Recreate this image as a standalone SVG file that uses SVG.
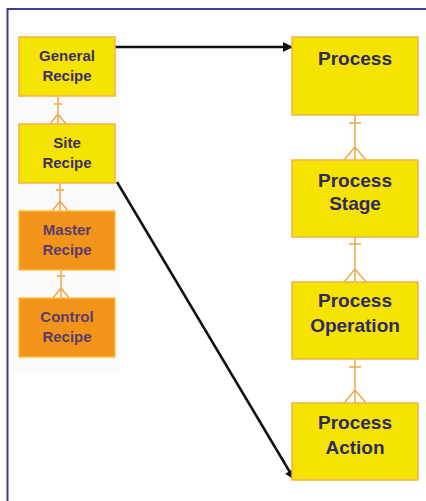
<svg xmlns="http://www.w3.org/2000/svg" width="426" height="501" viewBox="0 0 426 501">
  <defs>
    <marker id="arrow" viewBox="0 0 10 10" refX="9" refY="5" markerWidth="4.5" markerHeight="4" orient="auto" markerUnits="strokeWidth">
      <path d="M0,0 L10,5 L0,10 Z" fill="#111"/>
    </marker>
    <style>
      .yel { fill: #f5e300; stroke: #f2b24a; stroke-width: 1.5; }
      .ora { fill: #f29419; stroke: #f7c044; stroke-width: 1.5; }
      .ls { font-family: "Liberation Sans", Arial, sans-serif; font-weight: bold; font-size: 15px; text-anchor: middle; }
      .rs { font-family: "Liberation Sans", Arial, sans-serif; font-weight: bold; font-size: 19px; text-anchor: middle; fill: #2e2a66; }
      .ty { fill: #3a3068; }
      .to { fill: #5a3c6c; }
      .rel { fill: none; stroke: #f0a848; stroke-width: 1.5; }
      .flow { fill: none; stroke: #111; stroke-width: 2.5; marker-end: url(#arrow); }
    </style>
  </defs>
  <rect x="0" y="0" width="426" height="501" fill="#ffffff"/>
  <path d="M426,9 H7.5 V501" fill="none" stroke="#3c3c98" stroke-width="2"/>
  <rect x="12" y="32" width="108" height="340" fill="#fafafa"/>

  <g id="connectors">
    <path class="rel" d="M58,97 V124 M54,104 H62 M58,114 L50,124 M58,114 L66,124"/>
    <path class="rel" d="M60,183 V211 M56,190 H64 M60,201 L52,211 M60,201 L68,211"/>
    <path class="rel" d="M61,270 V298 M57,276 H65 M61,288 L53,298 M61,288 L69,298"/>
    <path class="rel" d="M355,115 V160 M349,123 H361 M355,147 L344,160 M355,147 L366,160"/>
    <path class="rel" d="M355,237 V282 M349,244 H361 M355,269 L344,282 M355,269 L366,282"/>
    <path class="rel" d="M355,359 V403 M349,367 H361 M355,390 L344,403 M355,390 L366,403"/>
    <path class="flow" d="M115,47 H292"/>
    <path class="flow" d="M117,182 L294,479"/>
  </g>

  <g id="general-recipe">
    <rect class="yel" x="19" y="37" width="96" height="59"/>
    <text class="ls ty" x="67" y="61">General</text>
    <text class="ls ty" x="67" y="81">Recipe</text>
  </g>
  <g id="site-recipe">
    <rect class="yel" x="19" y="124" width="96" height="59"/>
    <text class="ls ty" x="67" y="148">Site</text>
    <text class="ls ty" x="67" y="168">Recipe</text>
  </g>
  <g id="master-recipe">
    <rect class="ora" x="19" y="211" width="96" height="59"/>
    <text class="ls to" x="67" y="235">Master</text>
    <text class="ls to" x="67" y="255">Recipe</text>
  </g>
  <g id="control-recipe">
    <rect class="ora" x="19" y="298" width="96" height="59"/>
    <text class="ls to" x="67" y="322">Control</text>
    <text class="ls to" x="67" y="342">Recipe</text>
  </g>

  <g id="process">
    <rect class="yel" x="292" y="37" width="126" height="78"/>
    <text class="rs" x="355" y="65">Process</text>
  </g>
  <g id="process-stage">
    <rect class="yel" x="292" y="160" width="126" height="77"/>
    <text class="rs" x="355" y="187">Process</text>
    <text class="rs" x="355" y="210">Stage</text>
  </g>
  <g id="process-operation">
    <rect class="yel" x="292" y="282" width="126" height="77"/>
    <text class="rs" x="355" y="307">Process</text>
    <text class="rs" x="355" y="332">Operation</text>
  </g>
  <g id="process-action">
    <rect class="yel" x="292" y="403" width="126" height="77"/>
    <text class="rs" x="355" y="429">Process</text>
    <text class="rs" x="355" y="454">Action</text>
  </g>
</svg>
